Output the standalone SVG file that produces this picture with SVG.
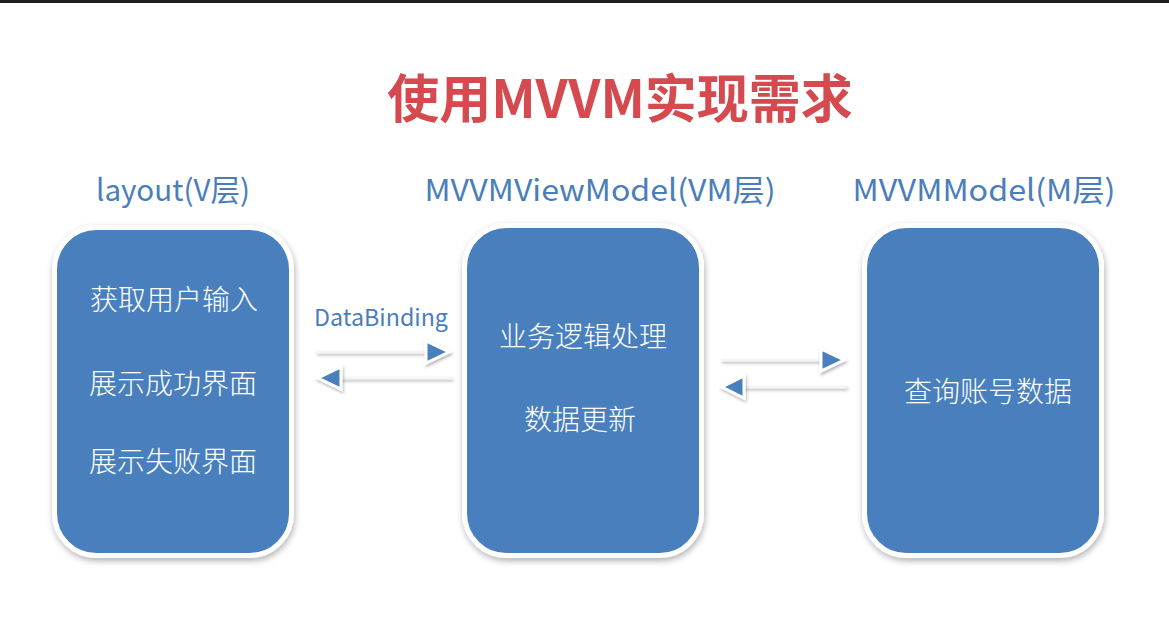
<svg xmlns="http://www.w3.org/2000/svg" width="1169" height="618" viewBox="0 0 1169 618">
<defs>
<filter id="sh" x="-10%" y="-10%" width="120%" height="120%">
<feDropShadow dx="1" dy="3" stdDeviation="3" flood-color="#000" flood-opacity="0.3"/>
</filter>
<filter id="sh2" filterUnits="userSpaceOnUse" x="0" y="0" width="1169" height="618">
<feDropShadow dx="1" dy="2" stdDeviation="1.5" flood-color="#000" flood-opacity="0.3"/>
</filter>
</defs>
<style>
.box{fill:#4a7fbd;stroke:#fff;stroke-width:5;filter:url(#sh)}
.hdr{font-family:"Noto Sans CJK SC","Noto Sans",sans-serif;font-size:30px;fill:#4a7ebb;text-anchor:middle}
.in{font-family:"Noto Sans CJK SC",sans-serif;font-size:28px;font-weight:300;fill:#fff;text-anchor:middle}
.ln{stroke:#f4f4f4;stroke-width:2.5;fill:none;filter:url(#sh2)}
.ah{fill:#4a7fbd;stroke:#fff;stroke-width:3;stroke-linejoin:miter;filter:url(#sh2)}
</style>
<rect x="0" y="0" width="1169" height="618" fill="#fff"/>
<rect x="0" y="0" width="1169" height="3" fill="#1e1e1e"/>
<text x="620" y="118" font-family="Noto Sans CJK SC,sans-serif" font-size="52" font-weight="bold" fill="#d44a4f" text-anchor="middle">使用MVVM实现需求</text>

<g id="layout">
<text class="hdr" x="173" y="201" textLength="154" lengthAdjust="spacingAndGlyphs">layout(V层)</text>
<rect class="box" x="54.5" y="227.5" width="237" height="328" rx="42"/>
<text class="in" x="174" y="310">获取用户输入</text>
<text class="in" x="173" y="394">展示成功界面</text>
<text class="in" x="173" y="472">展示失败界面</text>
</g>

<g id="viewmodel">
<text class="hdr" x="600" y="201" textLength="351" lengthAdjust="spacingAndGlyphs">MVVMViewModel(VM层)</text>
<rect class="box" x="464.5" y="225.5" width="237" height="330" rx="42"/>
<text class="in" x="583" y="347">业务逻辑处理</text>
<text class="in" x="580" y="430">数据更新</text>
</g>

<g id="model">
<text class="hdr" x="984" y="201" textLength="263" lengthAdjust="spacingAndGlyphs">MVVMModel(M层)</text>
<rect class="box" x="864.5" y="225.5" width="237" height="330" rx="42"/>
<text class="in" x="988" y="402">查询账号数据</text>
</g>

<g id="connectors">
<text x="381" y="326" font-family="Noto Sans CJK SC,Noto Sans,sans-serif" font-size="23" fill="#4a7ebb" text-anchor="middle" textLength="134" lengthAdjust="spacingAndGlyphs">DataBinding</text>
<line class="ln" x1="316" y1="352" x2="427" y2="352"/>
<polygon class="ah" points="426,341 426,363 449,352"/>
<line class="ln" x1="340" y1="378" x2="452" y2="378"/>
<polygon class="ah" points="341,367 341,389 318,378"/>
<line class="ln" x1="721" y1="360" x2="822" y2="360"/>
<polygon class="ah" points="821,349 821,371 844,360"/>
<line class="ln" x1="743" y1="387" x2="847" y2="387"/>
<polygon class="ah" points="744,376 744,398 722,387"/>
</g>
</svg>
